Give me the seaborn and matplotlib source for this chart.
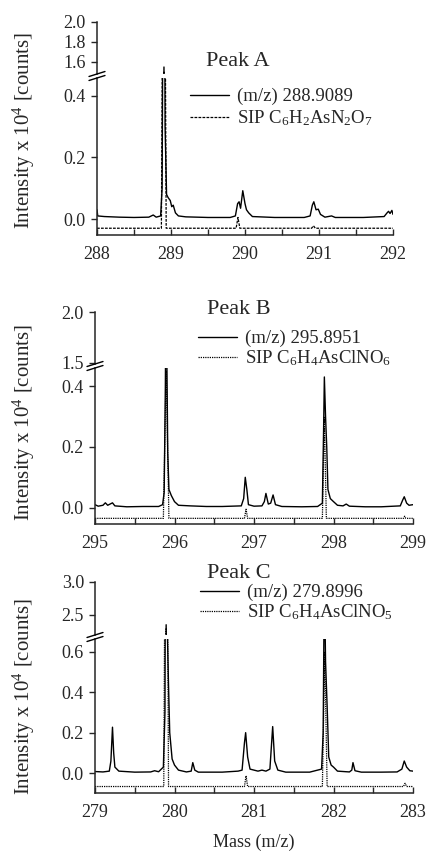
import numpy as np
import matplotlib
matplotlib.use("Agg")
import matplotlib.pyplot as plt
import pandas as pd
import seaborn as sns
from matplotlib.lines import Line2D

# ---- Peak A : measured trace and simulated isotope pattern (SIP)
massA = [288.00, 288.01, 288.10, 288.30, 288.50, 288.70, 288.76, 288.80, 288.86, 288.88,
         288.905, 288.92, 288.94, 288.96, 288.99, 289.01, 289.03, 289.06, 289.10, 289.20,
         289.50, 289.80, 289.87, 289.90, 289.92, 289.94, 289.97, 290.00, 290.02, 290.05,
         290.10, 290.40, 290.80, 290.88, 290.91, 290.93, 290.96, 290.99, 291.02, 291.08,
         291.17, 291.22, 291.60, 291.88, 291.92, 291.94, 291.96, 291.985, 292.00]
intA = [0.030, 0.010, 0.008, 0.006, 0.005, 0.006, 0.013, 0.006, 0.010, 0.100,
        1.55, 0.300, 0.080, 0.070, 0.060, 0.040, 0.045, 0.020, 0.010, 0.007,
        0.005, 0.005, 0.010, 0.050, 0.056, 0.035, 0.092, 0.050, 0.030, 0.020,
        0.008, 0.005, 0.005, 0.010, 0.045, 0.056, 0.030, 0.032, 0.015, 0.006,
        0.010, 0.005, 0.005, 0.008, 0.020, 0.025, 0.018, 0.028, 0.015]
sipMassA = [288.00, 288.87, 288.905, 288.935, 289.88, 289.905, 289.93, 290.90, 290.925, 290.95, 292.00]
sipA = [-0.030, -0.030, 1.50, -0.030, -0.030, 0.005, -0.030, -0.030, -0.022, -0.030, -0.030]

# ---- Peak B
massB = [295.00, 295.04, 295.10, 295.13, 295.16, 295.19, 295.22, 295.25, 295.40, 295.60,
         295.80, 295.85, 295.87, 295.885, 295.895, 295.905, 295.915, 295.93, 295.96, 296.00,
         296.05, 296.20, 296.40, 296.60, 296.84, 296.87, 296.89, 296.91, 296.93, 297.00,
         297.10, 297.13, 297.15, 297.18, 297.21, 297.24, 297.27, 297.35, 297.60, 297.80,
         297.86, 297.875, 297.885, 297.90, 297.915, 297.93, 297.96, 298.00, 298.05, 298.12,
         298.16, 298.20, 298.40, 298.60, 298.84, 298.87, 298.89, 298.92, 298.95, 299.00]
intB = [0.010, 0.005, 0.008, 0.016, 0.008, 0.012, 0.016, 0.006, 0.003, 0.004,
        0.004, 0.010, 0.050, 0.400, 0.800, 0.460, 0.180, 0.060, 0.040, 0.020,
        0.008, 0.006, 0.004, 0.004, 0.006, 0.030, 0.100, 0.060, 0.010, 0.005,
        0.006, 0.020, 0.047, 0.012, 0.015, 0.042, 0.010, 0.004, 0.003, 0.004,
        0.015, 0.250, 0.430, 0.300, 0.200, 0.060, 0.030, 0.020, 0.008, 0.006,
        0.012, 0.005, 0.003, 0.003, 0.006, 0.025, 0.036, 0.015, 0.008, 0.010]
sipMassB = [295.00, 295.86, 295.895, 295.93, 296.88, 296.90, 296.92, 297.86, 297.885, 297.91,
            298.88, 298.895, 298.91, 299.00]
sipB = [-0.035, -0.035, 0.45, -0.035, -0.035, -0.005, -0.035, -0.035, 0.30, -0.035,
        -0.035, -0.028, -0.035, -0.035]

# ---- Peak C
massC = [279.00, 279.10, 279.18, 279.20, 279.22, 279.235, 279.25, 279.30, 279.50, 279.70,
         279.75, 279.80, 279.86, 279.88, 279.895, 279.91, 279.925, 279.94, 279.97, 280.00,
         280.05, 280.15, 280.21, 280.23, 280.255, 280.30, 280.60, 280.80, 280.85, 280.88,
         280.895, 280.92, 280.95, 281.05, 281.10, 281.15, 281.20, 281.235, 281.26, 281.30,
         281.40, 281.70, 281.85, 281.87, 281.885, 281.90, 281.92, 281.94, 281.97, 282.00,
         282.05, 282.20, 282.23, 282.245, 282.27, 282.35, 282.60, 282.80, 282.86, 282.89,
         282.92, 282.96, 283.00]
intC = [0.008, 0.006, 0.010, 0.060, 0.227, 0.100, 0.030, 0.010, 0.005, 0.006,
        0.012, 0.007, 0.030, 0.300, 2.35, 0.700, 0.430, 0.200, 0.070, 0.040,
        0.015, 0.006, 0.010, 0.052, 0.015, 0.005, 0.005, 0.010, 0.015, 0.150,
        0.200, 0.080, 0.020, 0.010, 0.015, 0.010, 0.020, 0.230, 0.060, 0.015,
        0.005, 0.005, 0.020, 0.200, 1.000, 0.550, 0.330, 0.080, 0.040, 0.030,
        0.010, 0.006, 0.015, 0.052, 0.012, 0.005, 0.005, 0.006, 0.020, 0.060,
        0.030, 0.012, 0.010]
sipMassC = [279.00, 279.865, 279.895, 279.925, 280.88, 280.90, 280.92, 281.86, 281.89, 281.92,
            282.88, 282.90, 282.92, 283.00]
sipC = [-0.066, -0.066, 2.30, -0.066, -0.066, -0.013, -0.066, -0.066, 0.60, -0.066,
        -0.066, -0.050, -0.066, -0.066]

peakNames = ["Peak A", "Peak B", "Peak C"]
measLabels = ["(m/z) 288.9089", "(m/z) 295.8951", "(m/z) 279.8996"]
sipLabels = ["SIP C$_6$H$_2$AsN$_2$O$_7$", "SIP C$_6$H$_4$AsClNO$_6$", "SIP C$_6$H$_4$AsClNO$_5$"]
xRanges = [(288, 292), (295, 299), (279, 283)]
upperLims = [(1.48, 2.0), (1.49, 2.0), (2.194, 3.0)]
lowerLims = [(-0.052, 0.4585), (-0.0536, 0.4595), (-0.098, 0.6626)]
upperTicks = [[1.6, 1.8, 2.0], [1.5, 2.0], [2.5, 3.0]]
lowerTicks = [[0.0, 0.2, 0.4], [0.0, 0.2, 0.4], [0.0, 0.2, 0.4, 0.6]]

sns.set_style("ticks")
plt.rcParams['font.family'] = ['Liberation Serif', 'DejaVu Serif']
plt.rcParams['mathtext.fontset'] = 'custom'
plt.rcParams['mathtext.rm'] = 'Liberation Serif'
plt.rcParams['mathtext.default'] = 'regular'
plt.rcParams['axes.linewidth'] = 1.1

W, H = 428, 858
fig = plt.figure(figsize=(W / 100, H / 100), dpi=100)
fig.patch.set_facecolor("white")


def box(x0, x1, y0, y1):
    return [x0 / W, 1 - y1 / H, (x1 - x0) / W, (y1 - y0) / H]


# pixel layout of each panel: x0, x1, upper (y0, y1), lower (y0, y1)
layout = [(97, 393, (22, 74), (78, 235)),
          (95, 413, (312, 364), (368, 524)),
          (95, 413, (582, 635), (639, 793))]
# peak label / legend positions (px)
peakPos = [(206, 62), (207, 310), (207, 573)]
legPos = [(190, 88, 0.15), (198, 330, 0.05), (200, 584, 0.05)]
sipStyles = [(0, (2.2, 1.0)), (0, (1.0, 0.8)), (0, (1.0, 0.8))]
ylabCenters = [131, 423, 697]

data = [(massA, intA, sipMassA, sipA), (massB, intB, sipMassB, sipB), (massC, intC, sipMassC, sipC)]

for i in range(3):
    x0, x1, (uy0, uy1), (ly0, ly1) = layout[i]
    axU = fig.add_axes(box(x0, x1, uy0, uy1))
    axL = fig.add_axes(box(x0, x1, ly0, ly1))
    m, y, sm, sy = data[i]
    for ax in (axU, axL):
        sns.lineplot(x=m, y=y, ax=ax, color="black", lw=1.0, sort=False, estimator=None,
                     label=measLabels[i])
        sns.lineplot(x=sm, y=sy, ax=ax, color="black", lw=0.9, sort=False, estimator=None,
                     linestyle=sipStyles[i], label=sipLabels[i])
        ax.set_xlim(*xRanges[i])
        ax.set_xlabel("")
        ax.set_ylabel("")
        ax.get_legend().remove()
        ax.tick_params(axis="y", direction="out", length=4, width=1, labelsize=13, pad=4)
        sns.despine(ax=ax)

    axU.set_ylim(*upperLims[i])
    axU.set_yticks(upperTicks[i])
    axU.set_yticklabels([f"{t:.1f}" for t in upperTicks[i]])
    axU.spines["bottom"].set_visible(False)
    axU.set_xticks([])
    axU.patch.set_alpha(0)

    axL.set_ylim(*lowerLims[i])
    axL.set_yticks(lowerTicks[i])
    axL.set_yticklabels([f"{t:.1f}" for t in lowerTicks[i]])
    xa, xb = xRanges[i]
    axL.set_xticks(np.arange(xa, xb + 1))
    axL.set_xticks(np.arange(xa + 0.5, xb, 1.0), minor=True)
    axL.tick_params(axis="x", which="both", direction="in", length=4, width=1,
                    labelsize=13, pad=8)
    axL.patch.set_alpha(0)

    # axis break marks
    for yy in (uy1, ly0):
        fig.add_artist(Line2D([(x0 - 8) / W, (x0 + 8) / W],
                              [1 - (yy + 2.5) / H, 1 - (yy - 2.5) / H],
                              color="black", lw=1.0))

    px, py = peakPos[i]
    fig.text(px / W, 1 - py / H, peakNames[i], fontsize=16, ha="left", va="center")

    hx, hy, sp = legPos[i]
    handles = axL.get_lines()[:2]
    fig.legend(handles, [measLabels[i], sipLabels[i]], loc="upper left",
               bbox_to_anchor=(hx / W, 1 - hy / H), frameon=False, fontsize=13.5,
               handlelength=2.1, handletextpad=0.4, borderpad=0, borderaxespad=0,
               labelspacing=sp)

    fig.text(24 / W, 1 - ylabCenters[i] / H, "Intensity x 10$^4$ [counts]", fontsize=15,
             rotation=90, ha="center", va="center")

    if i == 2:
        axL.set_xlabel("Mass (m/z)", fontsize=13, labelpad=9)

fig.savefig("out.png", dpi=100)
